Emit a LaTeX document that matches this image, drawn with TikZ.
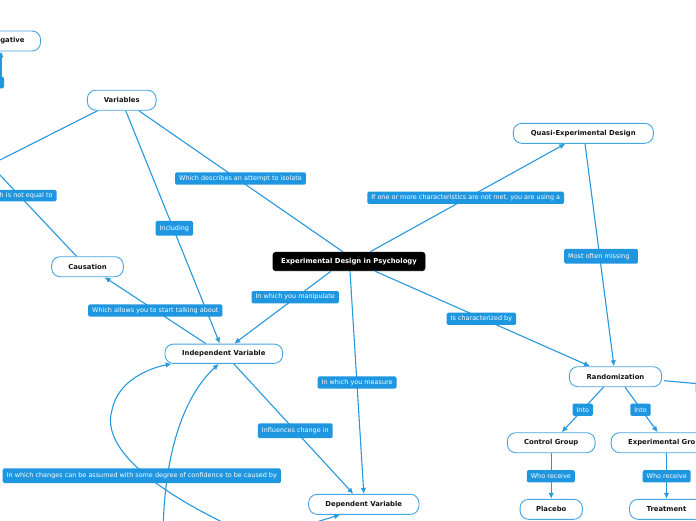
\documentclass[tikz,border=0pt]{standalone}
\usepackage{fontspec}
\setmainfont{DejaVu Sans}
\usetikzlibrary{arrows.meta,calc}
\definecolor{lineblue}{RGB}{38,152,222}
\definecolor{labblue}{RGB}{30,150,224}
\definecolor{nodeblue}{RGB}{70,165,228}
\definecolor{txt}{RGB}{20,20,20}
\begin{document}
\begin{tikzpicture}[x=1pt,y=-1pt,
 mnode/.style={draw=nodeblue, line width=0.9pt, fill=white, rounded corners=8.5pt, minimum height=20pt, inner xsep=2pt, inner ysep=0pt, font=\fontsize{6.85}{8}\selectfont\bfseries, text=txt},
 lab/.style={fill=labblue, rounded corners=1.5pt, minimum height=12.3pt, inner xsep=4pt, inner ysep=0pt, font=\fontsize{6.45}{8}\selectfont, text=white},
 tall/.style={minimum height=14.8pt},
 conn/.style={draw=lineblue, line width=1.1pt},
 arr/.style={conn, -{Latex[length=6pt,width=5.5pt]}}]
\useasboundingbox (0,0) rectangle (696,520);
\clip (0,0) rectangle (696,520);

% main nodes
\node[mnode, anchor=east, text width=60pt, align=right, inner xsep=16pt] (neg) at (41,41) {gative};
\node[mnode, minimum width=68.7pt] (var) at (121.7,100.2) {Variables};
\node[mnode, minimum width=71.7pt] (caus) at (87.5,266.7) {Causation};
\node[mnode, fill=black, draw=black, text=white, rounded corners=3pt, minimum width=152pt, minimum height=18.4pt] (exp) at (349,261.5) {Experimental Design in Psychology};
\node[mnode, minimum width=140pt] (quasi) at (583.3,133.3) {Quasi-Experimental Design};
\node[mnode, minimum width=117.7pt, minimum height=19.3pt] (iv) at (223.8,353.7) {Independent Variable};
\node[mnode, minimum width=110.3pt] (dv) at (363.8,504.3) {Dependent Variable};
\node[mnode, minimum width=92.3pt] (rand) at (615.5,376.7) {Randomization};
\node[mnode, minimum width=87.7pt] (cg) at (551.2,442.7) {Control Group};
\node[mnode, anchor=west, text width=110pt, align=left, inner xsep=17pt] (eg) at (610.7,442.7) {Experimental Gro};
\node[mnode, minimum width=62.3pt] (placebo) at (551.2,509.3) {Placebo};
\node[mnode, minimum width=74pt] (treat) at (666.5,509.3) {Treatment};
\node[mnode, anchor=west, minimum width=40pt, minimum height=26pt] (rn) at (695.7,387) {};

% free ends
\coordinate (cl0) at (1,85);
\coordinate (cl1) at (0,160);
\coordinate (cl2) at (0,175);
\coordinate (b1) at (250,535);
\coordinate (b2) at (163,535);
\coordinate (b3) at (290,530);

% connectors
\draw[arr] (cl0) -- ($(neg.south east)+(-40,0)$);
\draw[conn] ($(var.south)+(17,0)$) -- ($(exp.north)+(-6,0)$);
\draw[arr] ($(var.south)+(4,0)$) -- ($(iv.north)+(-4,0)$);
\draw[conn] ($(var.south)+(-24,0)$) -- (cl1);
\draw[conn] (cl2) -- ($(caus.north)+(-11,0)$);
\draw[arr] ($(iv.north)+(-18,0)$) -- ($(caus.south)+(17,0)$);
\draw[arr] ($(exp.south)+(-18,0)$) -- ($(iv.north)+(10.5,0)$);
\draw[arr] ($(exp.north)+(21,0)$) -- ($(quasi.south)+(-18,0)$);
\draw[arr] ($(quasi.south)+(1.7,0)$) -- ($(rand.north)+(-1.5,0)$);
\draw[arr] ($(exp.south)+(26,0)$) -- ($(rand.north)+(-25.5,0)$);
\draw[arr] ($(exp.south)+(1,0)$) -- (dv.north);
\draw[arr] ($(iv.south)+(10,0)$) -- ($(dv.north)+(-10.5,0)$);
\draw[arr] ($(rand.south)+(-12,0)$) -- ($(cg.north)+(10.5,0)$);
\draw[arr] ($(rand.south)+(9.5,0)$) -- ($(eg.north west)+(47,0)$);
\draw[arr] (cg.south) -- (placebo.north);
\draw[arr] (treat.north |- eg.south) -- (treat.north);
\draw[conn] ($(rand.east)+(2,4)$) -- ($(rn.west)+(0,-3.5)$);
\draw[arr] (b1) .. controls (160,495) and (100,450) .. (112,410) .. controls (118,380) and (150,368) .. (iv);
\draw[arr] (b2) .. controls (164,450) and (185,395) .. ($(iv.south)+(-5,0)$);
\draw[arr] (b3) -- ($(dv.south west)+(32,0)$);

% labels
\node[lab, anchor=east, minimum width=40pt, minimum height=11.7pt] (l16) at (4.3,82.5) {};
\node[lab, anchor=east, text width=70pt, align=right, minimum height=11.5pt] (l15) at (56.7,195.7) {h is not equal to};
\node[lab] (l1) at (240.5,178.5) {Which describes an attempt to isolate};
\node[lab, tall] (l2) at (174.3,228.3) {Including};
\node[lab] (l3) at (465.7,197.8) {If one or more characteristics are not met, you are using a};
\node[lab, tall, anchor=west, text width=65.7pt, align=left] (l4) at (564,256.3) {Most often missing};
\node[lab] (l5) at (295.2,297.2) {In which you manipulate};
\node[lab] (l6) at (155.3,310.5) {Which allows you to start talking about};
\node[lab] (l7) at (481.4,318.8) {Is characterized by};
\node[lab] (l8) at (357.1,382.5) {In which you measure};
\node[lab, tall] (l9) at (295.3,430.8) {Influences change in};
\node[lab, tall] (l10) at (141.8,475.8) {In which changes can be assumed with some degree of confidence to be caused by};
\node[lab] (l11) at (582.8,409.7) {Into};
\node[lab] (l12) at (640.5,409.7) {Into};
\node[lab] (l13) at (550.8,476.3) {Who receive};
\node[lab] (l14) at (666.7,476.3) {Who receive};
\end{tikzpicture}
\end{document}
